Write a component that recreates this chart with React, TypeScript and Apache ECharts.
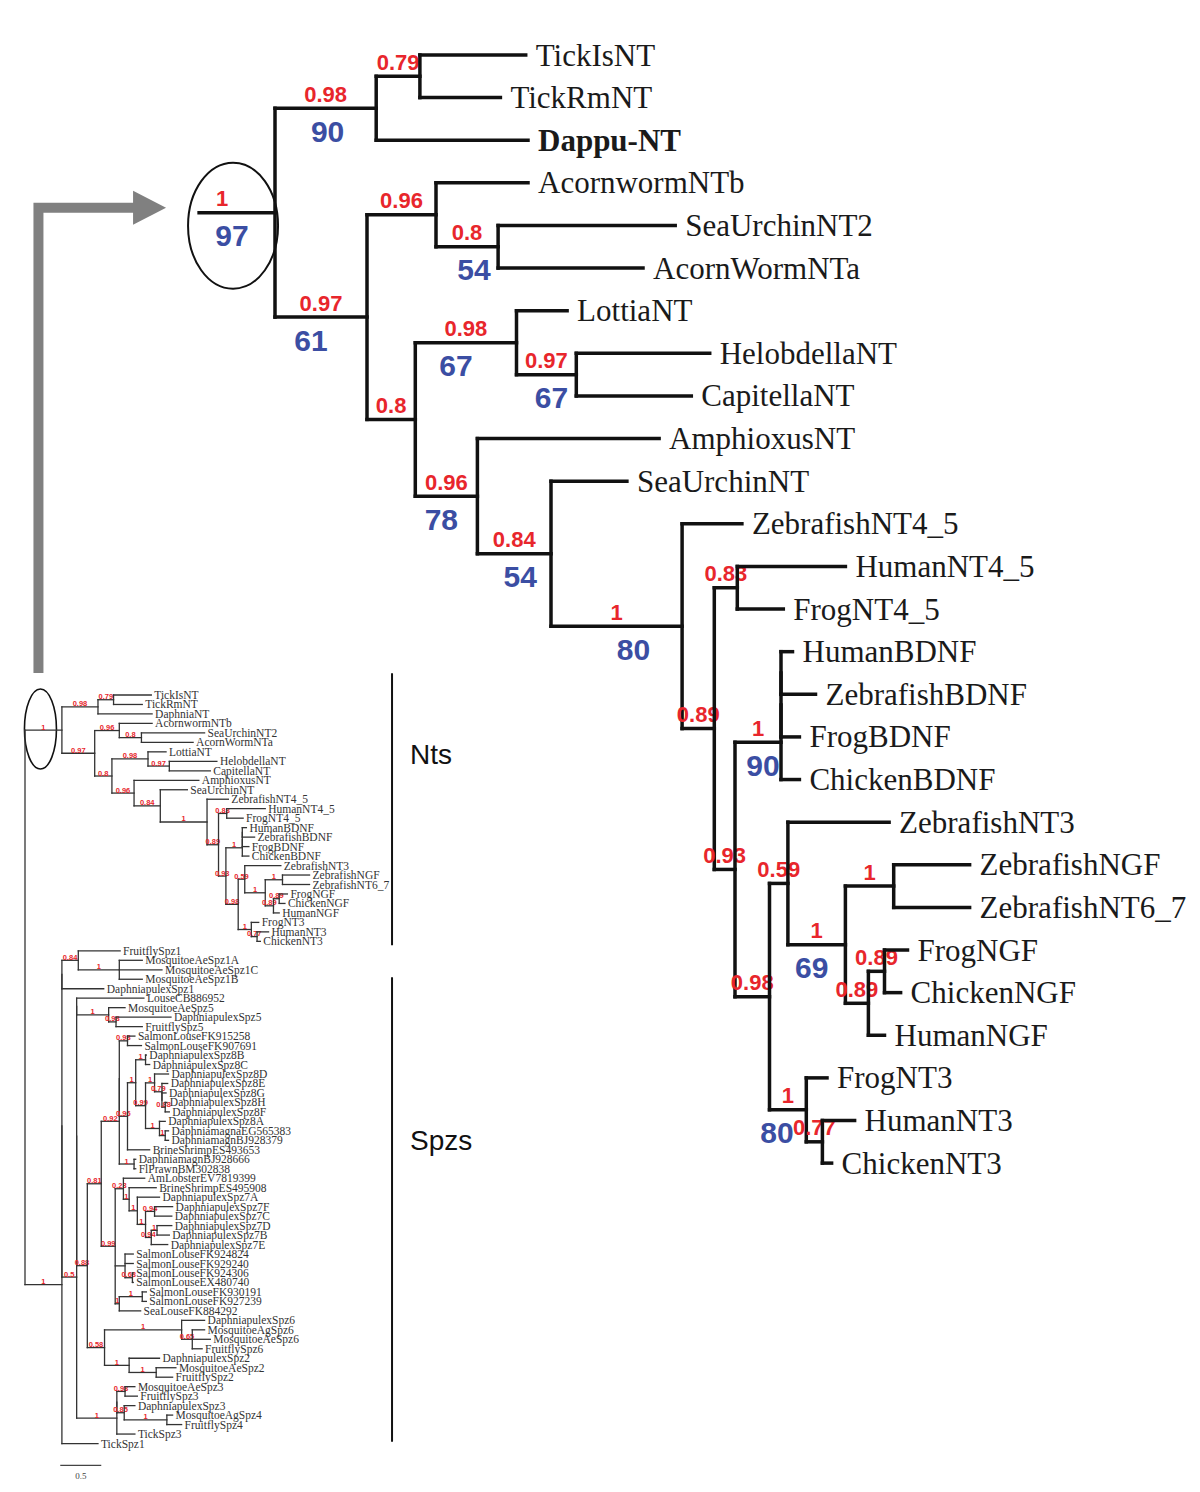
import React, { useEffect, useRef } from "react";
import * as echarts from "echarts";

// ---------------- DATA ----------------
// Neurotrophin (NT) clade, Newick pieces: name:branchLength, internal labels "posterior|bootstrap"
const NT_A = "((TickIsNT:0.46,TickRmNT:0.35)0.79:0.19,Dappu-NT:0.66)0.98|90:0.44";
const NT_C = "(AcornwormNTb:0.40,(SeaUrchinNT2:0.77,AcornWormNTa:0.63)0.8|54:0.27)0.96:0.30";
const NT_F = "(LottiaNT:0.22,(HelobdellaNT:0.58,CapitellaNT:0.50)0.97|67:0.26)0.98|67:0.44";
const NT_L = "(HumanNT4_5:0.47,FrogNT4_5:0.20)0.83:0.10";
const NT_BDNF = "(((HumanBDNF:0.05,ZebrafishBDNF:0.15):0,FrogBDNF:0.08):0,ChickenBDNF:0.08)1|90:0.20";
const NT_S = "(ZebrafishNGF:0.33,ZebrafishNT6_7:0.33)1:0.21";
const NT_T = "((FrogNGF:0.10,ChickenNGF:0.07)0.89:0.07,HumanNGF:0.07)0.89:0.10";
const NT_V = "(FrogNT3:0.09,(HumanNT3:0.14,ChickenNT3:0.04)0.77:0.07)1|80:0.16";
const NT_Q = `(${NT_S},${NT_T})1|69:0.25`;
const NT_P = `(ZebrafishNT3:0.44,${NT_Q})0.59:0.08`;
const NT_O = `(${NT_P},${NT_V})0.98:0.15`;
const NT_M = `(${NT_BDNF},${NT_O})0.93:0.09`;
const NT_K = `(${NT_L},${NT_M})0.89:0.14`;
const NT_J = `(ZebrafishNT4_5:0.26,${NT_K})1|80:0.57`;
const NT_I = `(SeaUrchinNT:0.33,${NT_J})0.84|54:0.32`;
const NT_H = `(AmphioxusNT:0.79,${NT_I})0.96|78:0.27`;
const NT_E = `(${NT_F},${NT_H})0.8:0.21`;
const NT_B = `(${NT_C},${NT_E})0.97|61:0.40`;
const NT_TREE = `(${NT_A},${NT_B})1|97`;

// Spaetzle (Spz) clade
const SPZ_1 = "(FruitflySpz1:0.51,(MosquitoeAeSpz1A:0.28,MosquitoeAeSpz1C:0.52,MosquitoeAeSpz1B:0.28)1:0.50)0.84:0.20";
const SPZ_5 = "(MosquitoeAeSpz5:0.20,(DaphniapulexSpz5:0.67,FruitflySpz5:0.32)0.98:0.09)1:0.39";
const SPZ_SL1 = "(SalmonLouseFK915258:0.09,SalmonLouseFK907691:0.17)0.98:0.10";
const SPZ_8BC = "(DaphniapulexSpz8B:0.01,DaphniapulexSpz8C:0.05)1:0.12";
const SPZ_8DF = "(DaphniapulexSpz8D:0.17,(DaphniapulexSpz8E:0.07,(DaphniapulexSpz8G:0.05,(DaphniapulexSpz8H:0.02,DaphniapulexSpz8F:0.05)0.88:0.04):0)0.79:0.09)1:0.11";
const SPZ_8A = "(DaphniapulexSpz8A:0.07,(DaphniamagnaEG565383:0.04,DaphniamagnBJ928379:0.04)1:0.07)1:0.17";
const SPZ_X96 = `((${SPZ_8BC},(${SPZ_8DF},${SPZ_8A})0.99:0.12)1:0.10,BrineShrimpES493653:0.27)0.96:0.10`;
const SPZ_DMFL = "(DaphniamagnBJ928666:0.02,FlPrawnBM302838:0.02)1:0.18";
const SPZ_G1 = `((${SPZ_SL1},${SPZ_X96}):0,${SPZ_DMFL})0.92:0.22`;
const SPZ_7 = "(AmLobsterEV7819399:0.26,(BrineShrimpES495908:0.33,(DaphniapulexSpz7A:0.27,((DaphniapulexSpz7F:0.22,DaphniapulexSpz7C:0.21)0.94:0.11,((DaphniapulexSpz7D:0.18,DaphniapulexSpz7B:0.15)1:0.07,DaphniapulexSpz7E:0.20)0.94:0.07)1:0.10)1:0.10)1:0.07)0.23:0.10";
const SPZ_SL3 = "(SalmonLouseFK924824:0.10,SalmonLouseFK929240:0.10,(SalmonLouseFK924306:0.01,SalmonLouseEX480740:0.01)0.68:0.09)0:0.12";
const SPZ_SL2 = "((SalmonLouseFK930191:0.05,SalmonLouseFK927239:0.05)1:0.28,SeaLouseFK884292:0.26)1:0.05";
const SPZ_G2 = `(${SPZ_7},${SPZ_SL3},${SPZ_SL2})0.99:0.17`;
const SPZ_X102 = `(${SPZ_G1},${SPZ_G2})0.81:0.17`;
const SPZ_Y105 = "((DaphniapulexSpz6:0.28,(MosquitoeAgSpz6:0.15,MosquitoeAeSpz6:0.22,FruitflySpz6:0.12)0.65:0.13)1:0.94,(DaphniapulexSpz2:0.37,(MosquitoeAeSpz2:0.24,FruitflySpz2:0.20)1:0.33)1:0.30)0.58:0.21";
const SPZ_X88 = `(${SPZ_X102},${SPZ_Y105})0.88:0.13`;
const SPZ_34 = "(((MosquitoeAeSpz3:0.12,FruitflySpz3:0.15)0.98:0.10,(DaphniapulexSpz3:0.13,(MosquitoeAgSpz4:0.07,FruitflySpz4:0.18)1:0.52)0.85:0.09):0,TickSpz3:0.22)1:0.49";
const SPZ_N77 = `(((LouseCB886952:0.82,${SPZ_5}):0,${SPZ_X88}):0,${SPZ_34})0.5:0.18`;
const SPZ_TREE = `(((${SPZ_1},DaphniapulexSpz1:0.51):0,${SPZ_N77}):0,TickSpz1:0.44)1`;

// whole-tree root branches (small overview tree): [label, length]
const OVERVIEW_ROOT_BRANCHES: [string, number][] = [["1", 0.45], ["1", 0.45]];
const BIG_ROOT_STUB = 0.33;
const SMALL_RENAME: Record<string, string> = { "Dappu-NT": "DaphniaNT" };
const BOLD_LEAVES = ["Dappu-NT"];
const BRACKET_NAMES = ["Nts", "Spzs"];
const BRACKET_FROM = [-2.3, 29.8];
const BRACKET_TO = [26.4, 78.8];
const BRACKET_LABEL_AT = [6.3, 47];
const SCALE_BAR_LEN = 0.5;

// label nudges (layout only, px) for the big tree: key "firstLeaf|lastLeaf" -> [posterior dx, bootstrap dx]
const BIG_LABEL_NUDGE: Record<string, [number, number]> = {
  "TickIsNT|ChickenNT3": [-15, -5],
  "TickIsNT|Dappu-NT": [0, 2],
  "SeaUrchinNT2|AcornWormNTa": [0, 7],
  "AcornwormNTb|ChickenNT3": [0, -10],
  "LottiaNT|CapitellaNT": [0, -10],
  "HelobdellaNT|CapitellaNT": [0, 5],
  "AmphioxusNT|ChickenNT3": [0, -5],
  "SeaUrchinNT|ChickenNT3": [0, 6],
  "ZebrafishNT4_5|ChickenNT3": [0, 17],
  "HumanBDNF|ChickenBDNF": [0, 5],
  "ZebrafishNGF|HumanNGF": [0, -5],
  "FrogNT3|ChickenNT3": [0, -11],
};

// ---------------- TREE UTILS ----------------
type TNode = { name: string; label: string; len: number; children: TNode[]; x: number; y: number };

function parseNewick(src: string): TNode {
  const s = src.replace(/\s+/g, "");
  let i = 0;
  const readTok = () => {
    let t = "";
    while (i < s.length && !":,()".includes(s[i])) t += s[i++];
    return t;
  };
  const node = (): TNode => {
    const n: TNode = { name: "", label: "", len: 0, children: [], x: 0, y: 0 };
    if (s[i] === "(") {
      i++;
      n.children.push(node());
      while (s[i] === ",") {
        i++;
        n.children.push(node());
      }
      i++;
      n.label = readTok();
    } else {
      n.name = readTok();
    }
    if (s[i] === ":") {
      i++;
      n.len = parseFloat(readTok());
    }
    return n;
  };
  return node();
}

function layout(n: TNode, px: number, counter: { i: number }) {
  n.x = px + n.len;
  if (!n.children.length) {
    n.y = counter.i++;
    return;
  }
  n.children.forEach((c) => layout(c, n.x, counter));
  n.y = (n.children[0].y + n.children[n.children.length - 1].y) / 2;
}

const firstLeaf = (n: TNode): string => (n.children.length ? firstLeaf(n.children[0]) : n.name);
const lastLeaf = (n: TNode): string => (n.children.length ? lastLeaf(n.children[n.children.length - 1]) : n.name);

type Seg = { x0: number; y0: number; x1: number; y1: number; leaf?: string; bold?: boolean; sup?: string; boot?: string; key?: string };

function buildSegs(root: TNode, rootParentX: number | null, rename: Record<string, string>): Seg[] {
  const segs: Seg[] = [];
  const walk = (n: TNode, px: number | null) => {
    const parts = n.label ? n.label.split("|") : [];
    const sup = parts[0] && parts[0] !== "0" ? parts[0] : undefined;
    const boot = parts[1] || undefined;
    if (px !== null && (n.x > px || !n.children.length)) {
      const leafName = n.children.length ? undefined : rename[n.name] || n.name;
      segs.push({
        x0: px, y0: n.y, x1: n.x, y1: n.y,
        leaf: leafName,
        bold: !!leafName && BOLD_LEAVES.includes(leafName),
        sup, boot,
        key: firstLeaf(n) + "|" + lastLeaf(n),
      });
    }
    if (n.children.length) {
      const f = n.children[0];
      const l = n.children[n.children.length - 1];
      segs.push({ x0: n.x, y0: f.y, x1: n.x, y1: l.y });
      n.children.forEach((c) => walk(c, n.x));
    }
  };
  walk(root, rootParentX);
  return segs;
}

const RED = "#e8262c";
const BLUE = "#3b4ea3";

type Style = {
  stroke: string; lw: number; gap: number; leafSize: number; leafFill: string;
  supSize: number; supDy: number; bootSize: number; bootDy: number; showBoot: boolean;
  nudge: Record<string, [number, number]>;
};

function makeRender(segs: Seg[], st: Style) {
  return (params: any, api: any) => {
    const s = segs[params.dataIndex];
    const a = api.coord([s.x0, s.y0]);
    const b = api.coord([s.x1, s.y1]);
    const nd = (s.key && st.nudge[s.key]) || [0, 0];
    const kids: any[] = [
      { type: "line", shape: { x1: a[0], y1: a[1], x2: b[0], y2: b[1] }, style: { stroke: st.stroke, lineWidth: st.lw, lineCap: "square" } },
    ];
    if (s.leaf) {
      kids.push({
        type: "text", x: b[0] + st.gap, y: b[1],
        style: { text: s.leaf, fill: st.leafFill, fontSize: st.leafSize, fontFamily: "Liberation Serif", fontWeight: s.bold ? "bold" : "normal", align: "left", verticalAlign: "middle" },
      });
    }
    if (s.sup) {
      kids.push({
        type: "text", x: (a[0] + b[0]) / 2 + nd[0], y: a[1] + st.supDy,
        style: { text: s.sup, fill: RED, fontSize: st.supSize, fontFamily: "Liberation Sans", fontWeight: "bold", align: "center", verticalAlign: "bottom" },
      });
    }
    if (s.boot && st.showBoot) {
      kids.push({
        type: "text", x: (a[0] + b[0]) / 2 + nd[1], y: a[1] + st.bootDy,
        style: { text: s.boot, fill: BLUE, fontSize: st.bootSize, fontFamily: "Liberation Sans", fontWeight: "bold", align: "center", verticalAlign: "top" },
      });
    }
    return { type: "group", children: kids };
  };
}

export default function App() {
  const ref = useRef<HTMLDivElement>(null);
  useEffect(() => {
    if (!ref.current) return;
    const chart = echarts.init(ref.current, null, { renderer: "svg" });

    // Big tree (NT clade)
    const big = parseNewick(NT_TREE);
    const bigCount = { i: 0 };
    layout(big, 0, bigCount);
    const bigSegs = buildSegs(big, -BIG_ROOT_STUB, {});

    // Overview tree (whole)
    const ntSmall = parseNewick(NT_TREE);
    const spzSmall = parseNewick(SPZ_TREE);
    ntSmall.label = OVERVIEW_ROOT_BRANCHES[0][0];
    ntSmall.len = OVERVIEW_ROOT_BRANCHES[0][1];
    spzSmall.label = OVERVIEW_ROOT_BRANCHES[1][0];
    spzSmall.len = OVERVIEW_ROOT_BRANCHES[1][1];
    const whole: TNode = { name: "", label: "", len: 0, children: [ntSmall, spzSmall], x: 0, y: 0 };
    const smallCount = { i: 0 };
    layout(whole, 0, smallCount);
    const smallSegs = buildSegs(whole, null, SMALL_RENAME);

    const BIG_PX = 230;
    const BIG_XMIN = -BIG_ROOT_STUB;
    const BIG_XMAX = 3.5;
    const SMALL_PX = 82;
    const SMALL_XMAX = 5;
    const bigLeaves = bigCount.i;
    const smallLeaves = smallCount.i;
    const scaleRow = smallLeaves + 1.3;

    const bracketData = BRACKET_NAMES.map((n, k) => [4.476, BRACKET_FROM[k], BRACKET_TO[k], BRACKET_LABEL_AT[k]]);

    const option: any = {
      animation: false,
      backgroundColor: "#ffffff",
      grid: [
        { left: 275 - BIG_ROOT_STUB * BIG_PX, top: 55, width: (BIG_XMAX - BIG_XMIN) * BIG_PX, height: 42.62 * (bigLeaves - 1) },
        { left: 25, top: 695, width: SMALL_XMAX * SMALL_PX, height: 9.475 * (smallLeaves - 1) },
      ],
      xAxis: [
        { type: "value", gridIndex: 0, min: BIG_XMIN, max: BIG_XMAX, show: false },
        { type: "value", gridIndex: 1, min: 0, max: SMALL_XMAX, show: false },
      ],
      yAxis: [
        { type: "value", gridIndex: 0, min: 0, max: bigLeaves - 1, inverse: true, show: false },
        { type: "value", gridIndex: 1, min: 0, max: smallLeaves - 1, inverse: true, show: false },
      ],
      series: [
        {
          type: "custom", xAxisIndex: 0, yAxisIndex: 0, clip: false, silent: true,
          data: bigSegs.map((s) => [s.x0, s.y0, s.x1, s.y1]),
          encode: { x: [0, 2], y: [1, 3] },
          renderItem: makeRender(bigSegs, { stroke: "#111", lw: 3.5, gap: 10, leafSize: 31, leafFill: "#1a1a1a", supSize: 22, supDy: -3, bootSize: 30, bootDy: 8, showBoot: true, nudge: BIG_LABEL_NUDGE }),
        },
        {
          type: "custom", xAxisIndex: 1, yAxisIndex: 1, clip: false, silent: true,
          data: smallSegs.map((s) => [s.x0, s.y0, s.x1, s.y1]),
          encode: { x: [0, 2], y: [1, 3] },
          renderItem: makeRender(smallSegs, { stroke: "#333", lw: 1.3, gap: 3, leafSize: 11.5, leafFill: "#333", supSize: 7.5, supDy: 1, bootSize: 8, bootDy: 2, showBoot: false, nudge: {} }),
        },
        {
          type: "custom", xAxisIndex: 1, yAxisIndex: 1, clip: false, silent: true,
          data: bracketData,
          encode: { x: 0, y: [1, 2] },
          renderItem: (params: any, api: any) => {
            const d = bracketData[params.dataIndex];
            const a = api.coord([d[0], d[1]]);
            const b = api.coord([d[0], d[2]]);
            const c = api.coord([d[0], d[3]]);
            return {
              type: "group",
              children: [
                { type: "line", shape: { x1: a[0], y1: a[1], x2: b[0], y2: b[1] }, style: { stroke: "#111", lineWidth: 2 } },
                { type: "text", x: c[0] + 18, y: c[1], style: { text: BRACKET_NAMES[params.dataIndex], fill: "#111", fontSize: 28, fontFamily: "Liberation Sans", align: "left", verticalAlign: "middle" } },
              ],
            };
          },
        },
        {
          type: "custom", xAxisIndex: 1, yAxisIndex: 1, clip: false, silent: true,
          data: [[0.43, scaleRow, 0.43 + SCALE_BAR_LEN]],
          encode: { x: [0, 2], y: 1 },
          renderItem: (params: any, api: any) => {
            const a = api.coord([0.43, scaleRow]);
            const b = api.coord([0.43 + SCALE_BAR_LEN, scaleRow]);
            return {
              type: "group",
              children: [
                { type: "line", shape: { x1: a[0], y1: a[1], x2: b[0], y2: b[1] }, style: { stroke: "#444", lineWidth: 1.3 } },
                { type: "text", x: (a[0] + b[0]) / 2, y: a[1] + 6, style: { text: String(SCALE_BAR_LEN), fill: "#444", fontSize: 9, fontFamily: "Liberation Serif", align: "center", verticalAlign: "top" } },
              ],
            };
          },
        },
      ],
    };
    chart.setOption(option);

    // annotations: ellipses around the NT root branch and the connecting arrow
    const bigRootMid = chart.convertToPixel({ gridIndex: 0 }, [-BIG_ROOT_STUB / 2, big.y]) as number[];
    const smallRootMid = chart.convertToPixel({ gridIndex: 1 }, [ntSmall.len / 2, ntSmall.y]) as number[];
    const bigE = { cx: bigRootMid[0] - 4, cy: bigRootMid[1] + 13, rx: 45, ry: 63 };
    const smallE = { cx: smallRootMid[0] - 3, cy: smallRootMid[1] - 1, rx: 16, ry: 40 };
    const ax = smallE.cx - 2;
    const ay0 = smallE.cy - smallE.ry - 16;
    const ay1 = bigRootMid[1] - 5;
    const tipX = bigE.cx - bigE.rx - 22;
    chart.setOption({
      graphic: [
        { type: "ellipse", shape: bigE, style: { fill: "none", stroke: "#111", lineWidth: 2 } },
        { type: "ellipse", shape: smallE, style: { fill: "none", stroke: "#111", lineWidth: 1.6 } },
        { type: "polyline", shape: { points: [[ax, ay0], [ax, ay1], [tipX - 30, ay1]] }, style: { stroke: "#808080", lineWidth: 10, fill: "none", lineJoin: "miter" } },
        { type: "polygon", shape: { points: [[tipX - 33, ay1 - 17], [tipX, ay1], [tipX - 33, ay1 + 17]] }, style: { fill: "#808080" } },
      ],
    });

    return () => chart.dispose();
  }, []);
  return <div ref={ref} style={{ position: "absolute", left: 0, top: 0, width: 1200, height: 1492, background: "#fff" }} />;
}
